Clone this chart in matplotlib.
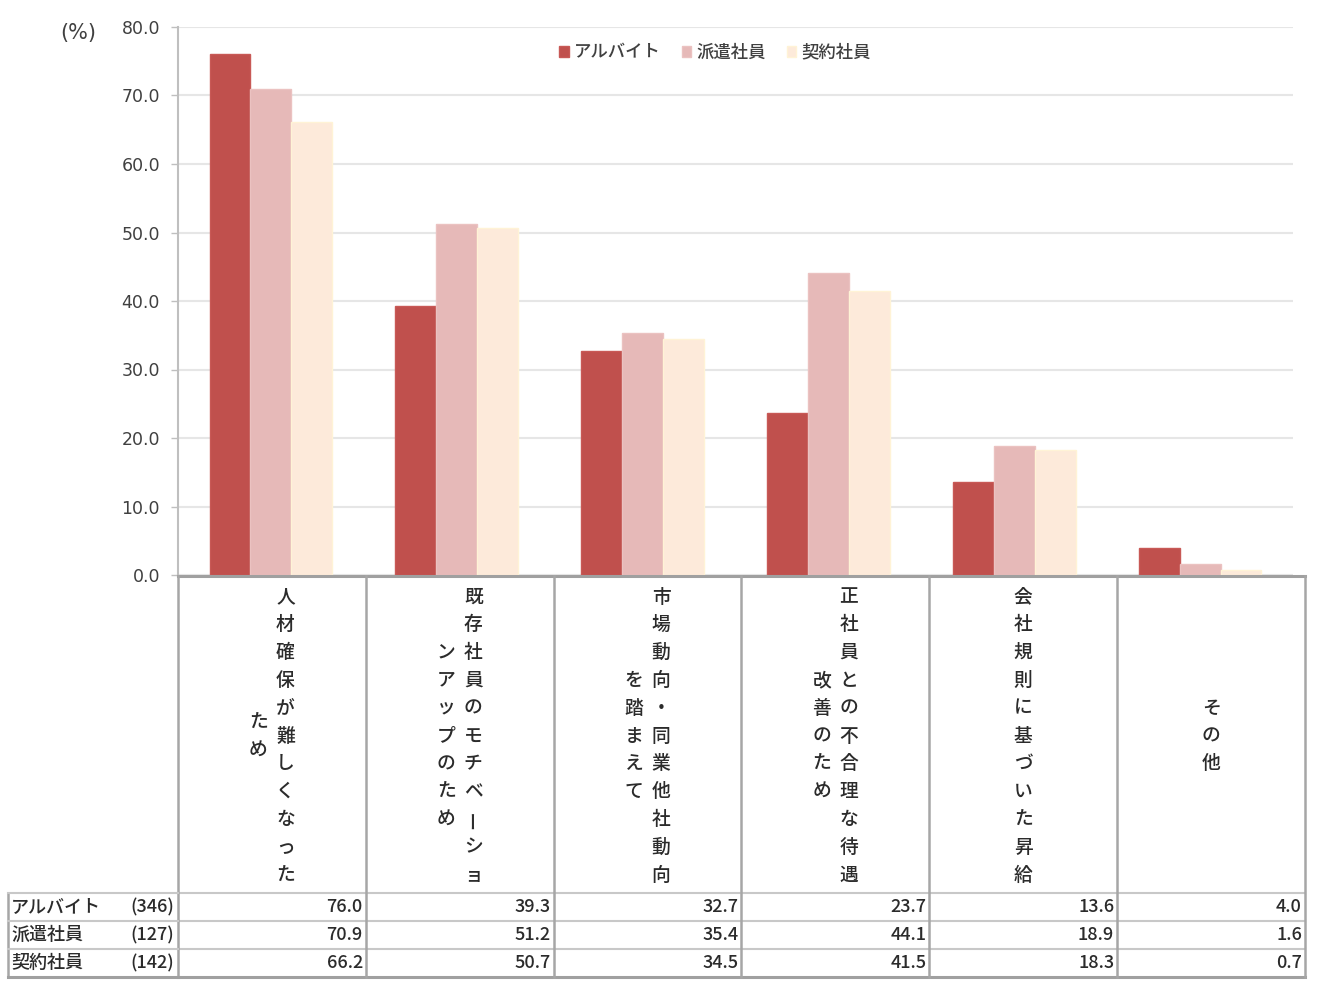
import numpy as np
import matplotlib
matplotlib.use("Agg")
import matplotlib.pyplot as plt
from matplotlib.patches import Patch

plt.rcParams['font.family'] = ['Noto Sans CJK JP', 'DejaVu Sans']

# data
series = ['アルバイト', '派遣社員', '契約社員']
counts = ['(346)', '(127)', '(142)']
arubaito = [76.0, 39.3, 32.7, 23.7, 13.6, 4.0]
haken = [70.9, 51.2, 35.4, 44.1, 18.9, 1.6]
keiyaku = [66.2, 50.7, 34.5, 41.5, 18.3, 0.7]
# each category label: list of vertical columns, read right to left
cat_labels = [
    ['人材確保が難しくなった', 'ため'],
    ['既存社員のモチベーショ', 'ンアップのため'],
    ['市場動向・同業他社動向', 'を踏まえて'],
    ['正社員との不合理な待遇', '改善のため'],
    ['会社規則に基づいた昇給'],
    ['その他'],
]
yticks = [0, 10, 20, 30, 40, 50, 60, 70, 80]

colors = ['#C0504D', '#E6B9B8', '#FDEADA']
edges = ['#C85956', '#EBC2C1', '#FFF3D6']
txt_c = '#2b2b2b'

W, H = 1321, 990
fig = plt.figure(figsize=(W / 100, H / 100), dpi=100)

def px_axes(x0, x1, y0, y1):
    return fig.add_axes([x0 / W, 1 - y1 / H, (x1 - x0) / W, (y1 - y0) / H])

# ---- bar chart ----
ax = px_axes(178, 1293, 27, 575)
x = np.arange(len(arubaito))
bw = 0.22
vals = [arubaito, haken, keiyaku]
handles = []
for k in range(3):
    ax.bar(x + (k - 1) * bw, vals[k], bw, color=colors[k], edgecolor=edges[k],
           linewidth=1.0, zorder=3)
    handles.append(Patch(facecolor=colors[k], edgecolor=edges[k], label=series[k]))

ax.set_xlim(-0.5, 5.5)
ax.set_ylim(0, 80)
ax.set_yticks(yticks)
ax.set_yticklabels(['%.1f' % v for v in yticks], family='DejaVu Sans',
                   fontsize=12.5, color='#404040')
ax.tick_params(axis='y', length=5, width=1, color='#BFBFBF', pad=8)
ax.set_xticks([])
ax.grid(axis='y', color='#E6E6E6', linewidth=1.5, zorder=0)
for s in ['top', 'right', 'bottom']:
    ax.spines[s].set_visible(False)
ax.spines['left'].set_color('#BFBFBF')
ax.spines['left'].set_linewidth(1.5)

leg = ax.legend(handles=handles, loc='center', bbox_to_anchor=(0.4816, 0.953),
                ncol=3, frameon=False, prop={'size': 12.5, 'weight': 'medium'},
                handlelength=0.55, handleheight=0.55, handletextpad=0.3,
                columnspacing=1.2)
for t in leg.get_texts():
    t.set_color('#404040')

fig.text(78 / W, 1 - 33 / H, '(%)', ha='center', va='center', fontsize=15,
         color='#404040', family='DejaVu Sans')

# ---- table below ----
tb = px_axes(178, 1305, 576, 977)
tb.set_xlim(-0.5, 5.5)
tb.set_ylim(977, 576)
tb.axis('off')
row_edges = [893, 921, 949, 977]
line_c = '#A6A6A6'

tb.axhline(576, color='#A0A0A0', lw=2.2, clip_on=False)
tb.axhline(977, color='#A0A0A0', lw=2.2, clip_on=False)
for yy in row_edges[:-1]:
    tb.axhline(yy, color='#C8C8C8', lw=1.5, clip_on=False)
for i in range(len(x) + 1):
    tb.axvline(i - 0.5, color=line_c, lw=1.8, clip_on=False)

# vertical category labels
char_step = 27.8
col_step = 27
yc = 736
for i, cols in enumerate(cat_labels):
    n = len(cols)
    for j, col in enumerate(cols):
        dx = ((n - 1) / 2 - j) * col_step
        m = len(col)
        for c, ch in enumerate(col):
            dy = ((m - 1) / 2 - c) * char_step
            rot = 90 if ch == 'ー' else 0
            tb.annotate(ch, xy=(i, yc), xytext=(dx, dy), textcoords='offset pixels',
                        ha='center', va='center', fontsize=13.5, color=txt_c,
                        weight='medium', rotation=rot)

# values
for r in range(3):
    ymid = (row_edges[r] + row_edges[r + 1]) / 2
    for i in range(len(x)):
        tb.annotate('%.1f' % vals[r][i], xy=(i + 0.5, ymid), xytext=(-3, 0),
                    textcoords='offset pixels', ha='right', va='center',
                    fontsize=13, color=txt_c, weight='medium')

# row header
hd = px_axes(8, 178, 576, 977)
hd.set_xlim(8, 178)
hd.set_ylim(977, 576)
hd.axis('off')
hd.plot([8, 8], [893, 977], color=line_c, lw=1.8, clip_on=False)
hd.plot([8, 178], [893, 893], color='#C8C8C8', lw=1.5, clip_on=False)
hd.plot([8, 178], [921, 921], color='#C8C8C8', lw=1.5, clip_on=False)
hd.plot([8, 178], [949, 949], color='#C8C8C8', lw=1.5, clip_on=False)
hd.plot([8, 178], [977, 977], color='#A0A0A0', lw=2.2, clip_on=False)
for r in range(3):
    ymid = (row_edges[r] + row_edges[r + 1]) / 2
    hd.text(11, ymid, series[r], ha='left', va='center', fontsize=13,
            color=txt_c, weight='medium')
    hd.text(174, ymid, counts[r], ha='right', va='center', fontsize=13,
            color=txt_c, weight='medium')

fig.savefig('out.png', dpi=100, facecolor='white')
